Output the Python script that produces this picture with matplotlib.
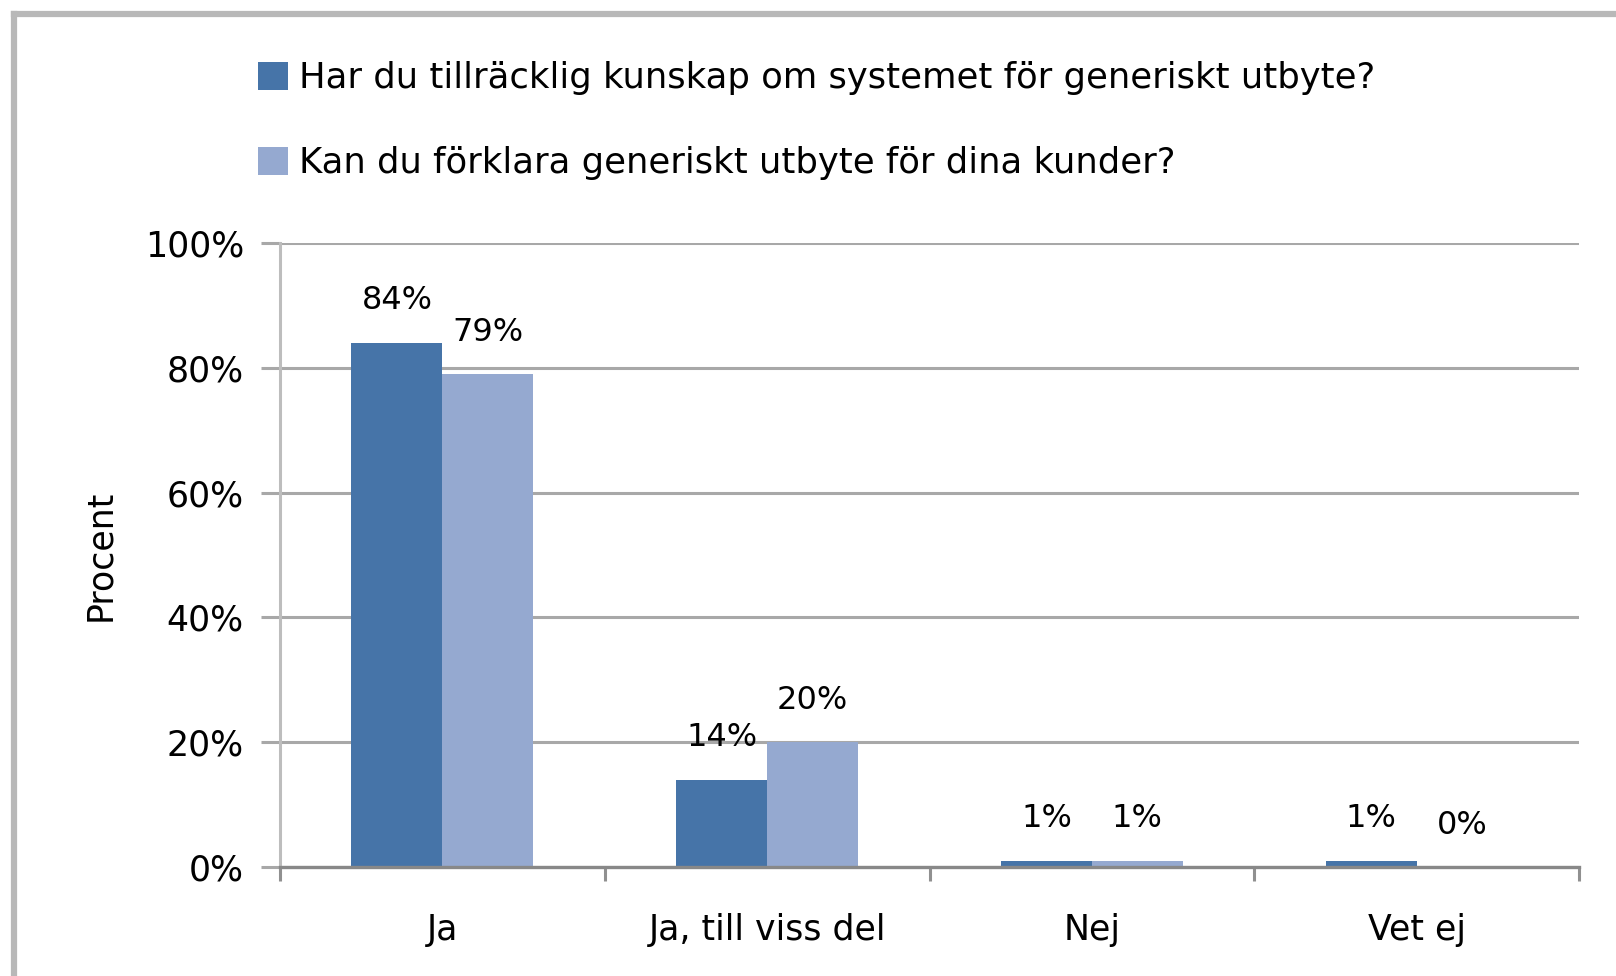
import matplotlib.pyplot as plt
import numpy as np
from matplotlib.lines import Line2D

# svarsalternativ och andelar (procent)
kategorier = ['Ja', 'Ja, till viss del', 'Nej', 'Vet ej']
kunskap = [84, 14, 1, 1]
forklara = [79, 20, 1, 0]
serie_namn = ['Har du tillräcklig kunskap om systemet för generiskt utbyte?',
              'Kan du förklara generiskt utbyte för dina kunder?']
y_ticks = [0, 20, 40, 60, 80, 100]

morkbla = '#4674A8'
ljusbla = '#95A9D0'
grid_farg = '#A8A8A8'

fig = plt.figure(figsize=(16.16, 9.76), dpi=100)
ax = fig.add_axes([280 / 1616, 1 - 867 / 976, 1299 / 1616, 624 / 976])

x = np.arange(len(kategorier)) + 0.5
b = 0.28
bar1 = ax.bar(x - b / 2, kunskap, b, color=morkbla, label=serie_namn[0], zorder=3)
bar2 = ax.bar(x + b / 2, forklara, b, color=ljusbla, label=serie_namn[1], zorder=3)

ax.bar_label(bar1, labels=[f'{v}%' for v in kunskap], padding=19, fontsize=23)
ax.bar_label(bar2, labels=[f'{v}%' for v in forklara], padding=19, fontsize=23)

ax.set_xlim(0, len(kategorier))
ax.set_ylim(0, 100)
ax.set_yticks(y_ticks)
ax.set_yticklabels([f'{t}%' for t in y_ticks], fontsize=25)
ax.yaxis.grid(True, color=grid_farg, linewidth=2.2, zorder=0)
ax.tick_params(axis='y', length=14, width=2.2, color=grid_farg, pad=12)

# etiketter mitt i varje grupp, tickmarkeringar vid gränserna
ax.set_xticks(np.arange(len(kategorier) + 1))
ax.set_xticklabels([])
ax.set_xticks(x, minor=True)
ax.set_xticklabels(kategorier, minor=True, fontsize=25)
ax.tick_params(axis='x', which='major', length=10, width=2.2, color='#909090')
ax.tick_params(axis='x', which='minor', length=0, pad=33)

for s in ['top', 'right']:
    ax.spines[s].set_visible(False)
ax.spines['bottom'].set_color('#888888')
ax.spines['bottom'].set_linewidth(2.4)
ax.spines['bottom'].set_zorder(4)
ax.spines['left'].set_color('#BDBDBD')
ax.spines['left'].set_linewidth(2.2)

ax.set_ylabel('Procent', fontsize=25, labelpad=20)

fig.legend(handles=[bar1, bar2], labels=serie_namn, loc='upper left',
           bbox_to_anchor=(258 / 1616, 1 - 61 / 976), frameon=False,
           fontsize=25.5, handlelength=0.85, handleheight=0.85,
           handletextpad=0.3, labelspacing=1.45, borderpad=0, borderaxespad=0)

# grå ram runt diagrammet
fig.add_artist(Line2D([14 / 1616, 14 / 1616], [0, 1 - 14 / 976],
                      transform=fig.transFigure, color='#B8B8B8', linewidth=4.5))
fig.add_artist(Line2D([14 / 1616, 1], [1 - 14 / 976, 1 - 14 / 976],
                      transform=fig.transFigure, color='#B8B8B8', linewidth=4.5))

fig.savefig('out.png', dpi=100)
